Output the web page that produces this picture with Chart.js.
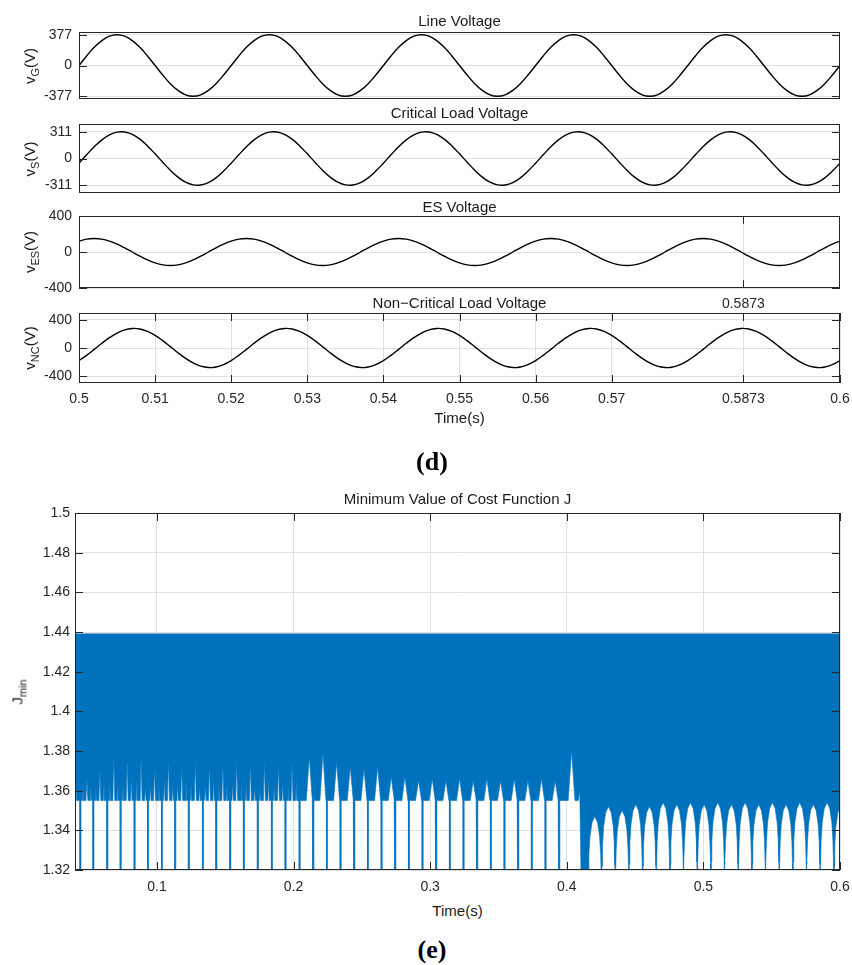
<!DOCTYPE html>
<html>
<head>
<meta charset="utf-8">
<script src="https://cdn.jsdelivr.net/npm/chart.js"></script>
<style>
  body { margin: 0; background: #fff; }
  #fig { position: relative; width: 852px; height: 965px; background: #fff; overflow: hidden; }
  canvas { position: absolute; left: 0; }
  .lbl { position: absolute; transform: translate(-50%, -50%); white-space: nowrap; line-height: 1;
         font: 15px 'Liberation Sans', Arial, sans-serif; color: #1a1a1a; }
  .rot { transform: translate(-50%, -50%) rotate(-90deg); }
  .lbl sub { font-size: 11px; vertical-align: -4px; line-height: 0; }
  .tag { font: bold 26px 'Liberation Serif', 'DejaVu Serif', serif; color: #000; }
</style>
</head>
<body>
<div id="fig">
  <canvas id="c1" width="852" height="84" style="top:20px"></canvas>
  <canvas id="c2" width="852" height="96" style="top:104px"></canvas>
  <canvas id="c3" width="852" height="112" style="top:200px"></canvas>
  <canvas id="c4" width="852" height="100" style="top:312px"></canvas>
  <canvas id="c5" width="852" height="395" style="top:505px"></canvas>

  <div class="lbl" style="left:459.5px;top:20px">Line Voltage</div>
  <div class="lbl" style="left:459.5px;top:112px">Critical Load Voltage</div>
  <div class="lbl" style="left:459.5px;top:206px">ES Voltage</div>
  <div class="lbl" style="left:459.5px;top:302px">Non−Critical Load Voltage</div>
  <div class="lbl" style="left:459.5px;top:417px">Time(s)</div>
  <div class="lbl tag" style="left:432px;top:462px">(d)</div>
  <div class="lbl" style="left:457.5px;top:498px">Minimum Value of Cost Function J</div>
  <div class="lbl" style="left:457.5px;top:910px">Time(s)</div>
  <div class="lbl tag" style="left:432px;top:950px">(e)</div>

  <div class="lbl rot" style="left:29px;top:65.5px">v<sub>G</sub>(V)</div>
  <div class="lbl rot" style="left:29px;top:158.5px">v<sub>S</sub>(V)</div>
  <div class="lbl rot" style="left:29px;top:252px">v<sub>ES</sub>(V)</div>
  <div class="lbl rot" style="left:29px;top:348px">v<sub>NC</sub>(V)</div>
  <div class="lbl rot" style="left:17px;top:692px">J<sub>min</sub></div>
</div>
<script>
// ---- (d) voltages, sampled every 1 ms from 0.5 s to 0.6 s ----
const tStart = 0.5, tStep = 0.001;
const vG = [0,117,222,305,359,377,359,305,222,117,0,-117,-222,-305,-359,-377,-359,-305,-222,-117,
  0,117,222,305,359,377,359,305,222,117,0,-117,-222,-305,-359,-377,-359,-305,-222,-117,
  0,117,222,305,359,377,359,305,222,117,0,-117,-222,-305,-359,-377,-359,-305,-222,-117,
  0,117,222,305,359,377,359,305,222,117,0,-117,-222,-305,-359,-377,-359,-305,-222,-117,
  0,117,222,305,359,377,359,305,222,117,0,-117,-222,-305,-359,-377,-359,-305,-222,-117,
  0];
const vS = [-54,43,136,216,275,306,308,280,224,146,54,-43,-136,-216,-275,-306,-308,-280,-224,-146,
  -54,43,136,216,275,306,308,280,224,146,54,-43,-136,-216,-275,-306,-308,-280,-224,-146,
  -54,43,136,216,275,306,308,280,224,146,54,-43,-136,-216,-275,-306,-308,-280,-224,-146,
  -54,43,136,216,275,306,308,280,224,146,54,-43,-136,-216,-275,-306,-308,-280,-224,-146,
  -54,43,136,216,275,306,308,280,224,146,54,-43,-136,-216,-275,-306,-308,-280,-224,-146,
  -54];
const vES = [121,143,150,143,121,88,46,0,-46,-88,-121,-143,-150,-143,-121,-88,-46,0,46,88,
  121,143,150,143,121,88,46,0,-46,-88,-121,-143,-150,-143,-121,-88,-46,0,46,88,
  121,143,150,143,121,88,46,0,-46,-88,-121,-143,-150,-143,-121,-88,-46,0,46,88,
  121,143,150,143,121,88,46,0,-46,-88,-121,-143,-150,-143,-121,-88,-46,0,46,88,
  121,143,150,143,121,88,46,0,-46,-88,-121,-143,-150,-143,-121,-88,-46,0,46,88,
  121];
const vNC = [-180,-105,-20,68,148,214,260,279,272,237,180,105,20,-68,-148,-214,-260,-279,-272,-237,
  -180,-105,-20,68,148,214,260,279,272,237,180,105,20,-68,-148,-214,-260,-279,-272,-237,
  -180,-105,-20,68,148,214,260,279,272,237,180,105,20,-68,-148,-214,-260,-279,-272,-237,
  -180,-105,-20,68,148,214,260,279,272,237,180,105,20,-68,-148,-214,-260,-279,-272,-237,
  -180,-105,-20,68,148,214,260,279,272,237,180,105,20,-68,-148,-214,-260,-279,-272,-237,
  -180];
const timeTicks = [0.5, 0.51, 0.52, 0.53, 0.54, 0.55, 0.56, 0.57, 0.5873, 0.6];
const cursorTicks = [0.5873];

// ---- (e) cost function band ----
const jTop = 1.439;    // upper edge of the band
const jBase = 1.355;   // lower edge before 0.41 s
const jFloor = 1.30;   // drop-outs below the axis
const spikeT = [0.0440, 0.0535, 0.0637, 0.0735, 0.0837, 0.0935, 0.1037, 0.1134, 0.1234, 0.1337,
  0.1435, 0.1537, 0.1637, 0.1739, 0.1842, 0.1942, 0.2045, 0.2145, 0.2245, 0.2345, 0.2445, 0.2545,
  0.2645, 0.2745, 0.2845, 0.2945, 0.3045, 0.3145, 0.3245, 0.3345, 0.3445, 0.3545, 0.3645, 0.3745,
  0.3845, 0.3945];
const notchT = [0.0487, 0.0582, 0.0684, 0.0782, 0.0884, 0.0982, 0.1084, 0.1181, 0.1281, 0.1384,
  0.1482, 0.1584, 0.1684, 0.1786, 0.1889, 0.1989, 0.2115, 0.2215, 0.2315, 0.2415, 0.2515, 0.2615,
  0.2715, 0.2815, 0.2915, 0.3015, 0.3115, 0.3215, 0.3315, 0.3415, 0.3515, 0.3615, 0.3715, 0.3815,
  0.3915, 0.4035];
const notchJ = [1.366, 1.370, 1.378, 1.375, 1.377, 1.372, 1.376, 1.373, 1.375, 1.373, 1.374, 1.375,
  1.374, 1.375, 1.373, 1.374, 1.377, 1.379, 1.374, 1.372, 1.371, 1.372, 1.367, 1.367, 1.365, 1.366,
  1.365, 1.366, 1.365, 1.366, 1.365, 1.366, 1.365, 1.366, 1.365, 1.380];
const notchW = [0.0007, 0.0007, 0.0007, 0.0007, 0.0007, 0.0007, 0.0007, 0.0007, 0.0007, 0.0007,
  0.0007, 0.0007, 0.0007, 0.0007, 0.0007, 0.0007, 0.0022, 0.0022, 0.0022, 0.0022, 0.0022, 0.0022,
  0.0022, 0.0022, 0.0022, 0.0022, 0.0022, 0.0022, 0.0022, 0.0022, 0.0022, 0.0022, 0.0022, 0.0022,
  0.0022, 0.0025];
// smaller white needles before 0.2 s (just after the drop-out, and late in the period)
const minorJ = [1.365, 1.362, 1.366, 1.364, 1.365, 1.363, 1.366, 1.364, 1.365, 1.363, 1.365, 1.364,
  1.366, 1.363, 1.365, 1.364];
const lateJ = [1.362, 1.366, 1.363, 1.367, 1.362, 1.365, 1.363, 1.366, 1.362, 1.366, 1.363, 1.365,
  1.362, 1.366, 1.364, 1.368];
const archB = [0.4155, 0.4255, 0.4355, 0.4455, 0.4555, 0.4655, 0.4755, 0.4855, 0.4955, 0.5055,
  0.5155, 0.5255, 0.5355, 0.5455, 0.5555, 0.5655, 0.5755, 0.5855, 0.5955, 0.6055];
const archJ = [1.347, 1.352, 1.350, 1.353, 1.352, 1.354, 1.353, 1.354, 1.353, 1.354, 1.353, 1.354,
  1.353, 1.354, 1.353, 1.354, 1.353, 1.354, 1.352];
// arch profile: [fraction of period, depth below arch top]
const archShape = [[0, 0.047], [0.03, 0.03], [0.07, 0.019], [0.15, 0.01], [0.3, 0.003], [0.5, 0],
  [0.7, 0.003], [0.85, 0.01], [0.93, 0.019], [0.97, 0.03]];
const jTicks = [1.32, 1.34, 1.36, 1.38, 1.4, 1.42, 1.44, 1.46, 1.48, 1.5];
const tTicksE = [0.1, 0.2, 0.3, 0.4, 0.5, 0.6];

const font = { family: "'Liberation Sans', Arial, sans-serif", size: 14 };
const axisColor = '#262626';
const gridColor = '#e0e0e0';
const blue = '#0072BD';

// MATLAB-style box with ticks pointing inwards
const boxTicks = {
    id: 'boxTicks',
    afterDatasetsDraw(chart, args, o) {
        const { ctx, chartArea: a, scales } = chart;
        const L = 8;
        ctx.save();
        ctx.strokeStyle = axisColor;
        ctx.lineWidth = 1;
        ctx.beginPath();
        if (o.y) scales.y.ticks.forEach(t => {
            const p = Math.round(scales.y.getPixelForValue(t.value)) + 0.5;
            ctx.moveTo(a.left, p); ctx.lineTo(a.left + L, p);
            ctx.moveTo(a.right, p); ctx.lineTo(a.right - L, p);
        });
        if (o.x) scales.x.ticks.forEach(t => {
            const p = Math.round(scales.x.getPixelForValue(t.value)) + 0.5;
            ctx.moveTo(p, a.top); ctx.lineTo(p, a.top + L);
            ctx.moveTo(p, a.bottom); ctx.lineTo(p, a.bottom - L);
        });
        ctx.stroke();
        ctx.strokeRect(Math.round(a.left) + 0.5, Math.round(a.top) + 0.5,
            Math.round(a.right - a.left) - 1, Math.round(a.bottom - a.top) - 1);
        ctx.restore();
    }
};
Chart.register(boxTicks);

const setTicks = list => s => { s.ticks = list.map(v => ({ value: v })); };
// fixed axis sizes, no extra room for overhanging labels
const fixX = h => s => { s.height = h; s.paddingLeft = 0; s.paddingRight = 0; };
const fixY = w => s => { s.width = w; s.paddingTop = 0; s.paddingBottom = 0; };

function panel(id, values, lim, yTicks, xTicks, showX, padTop, padBottom, xHeight) {
    const pts = values.map((v, i) => ({ x: Math.round((tStart + i * tStep) * 1e4) / 1e4, y: v }));
    const x = {
        type: 'linear', min: 0.5, max: 0.6,
        border: { display: false },
        grid: { display: !!xTicks, color: gridColor, drawTicks: false },
        ticks: { display: showX, font, color: axisColor, padding: 8, maxRotation: 0, autoSkip: false, callback: v => String(v) },
        afterFit: fixX(xHeight)
    };
    if (xTicks) x.afterBuildTicks = setTicks(xTicks);
    return new Chart(document.getElementById(id), {
        type: 'line',
        data: { datasets: [{ data: pts, borderColor: '#000', borderWidth: 1.4, pointRadius: 0, tension: 0.4, fill: false }] },
        options: {
            responsive: false, animation: false, events: [],
            layout: { padding: { top: padTop, right: 12, bottom: padBottom, left: 0 } },
            plugins: { legend: { display: false }, tooltip: { enabled: false }, boxTicks: { x: !!xTicks, y: true } },
            scales: {
                x,
                y: {
                    min: -lim, max: lim,
                    border: { display: false },
                    grid: { color: gridColor, drawTicks: false },
                    ticks: { font, color: axisColor, padding: 7, callback: v => String(v) },
                    afterBuildTicks: setTicks(yTicks),
                    afterFit: fixY(79)
                }
            }
        }
    });
}

panel('c1', vG, 410, [-377, 0, 377], null, false, 12, 5, 0);
panel('c2', vS, 400, [-311, 0, 311], null, false, 20, 7, 0);
panel('c3', vES, 400, [-400, 0, 400], cursorTicks, true, 16, 0, 24);
panel('c4', vNC, 500, [-400, 0, 400], timeTicks, true, 1, 0, 29);

// lower edge of the J band
const needle = (list, c, w, h) => list.push({ x: c - w, y: jBase }, { x: c, y: h }, { x: c + w, y: jBase });
const lower = [{ x: 0.04, y: 1.374 }, { x: 0.0412, y: jBase }];
spikeT.forEach((s, k) => {
    lower.push({ x: s - 0.0004, y: jBase }, { x: s - 0.0004, y: jFloor },
               { x: s + 0.0004, y: jFloor }, { x: s + 0.0004, y: jBase });
    if (k < minorJ.length) needle(lower, s + 0.0017, 0.0005, minorJ[k]);
    needle(lower, notchT[k], notchW[k], notchJ[k]);
    if (k < lateJ.length) needle(lower, s + 0.0078, 0.0005, lateJ[k]);
});
lower.push({ x: 0.4085, y: jBase }, { x: 0.4095, y: 1.36 }, { x: 0.4108, y: jFloor });
archJ.forEach((top, i) => {
    const a = archB[i], b = archB[i + 1];
    archShape.forEach(([f, d]) => lower.push({ x: a + f * (b - a), y: top - d }));
});
lower.push({ x: archB[archB.length - 1], y: jFloor });

new Chart(document.getElementById('c5'), {
    type: 'line',
    data: {
        datasets: [
            { data: lower, borderColor: blue, borderWidth: 0.6, backgroundColor: blue, fill: { value: jTop }, pointRadius: 0, tension: 0 },
            { data: [{ x: 0.04, y: jTop }, { x: 0.6, y: jTop }], borderColor: blue, borderWidth: 1.2, pointRadius: 0, fill: false }
        ]
    },
    options: {
        responsive: false, animation: false, events: [],
        layout: { padding: { top: 8, right: 12, bottom: 0, left: 0 } },
        plugins: { legend: { display: false }, tooltip: { enabled: false }, boxTicks: { x: true, y: true } },
        scales: {
            x: {
                type: 'linear', min: 0.04, max: 0.6,
                border: { display: false },
                grid: { color: gridColor, drawTicks: false },
                ticks: { font, color: axisColor, padding: 9, maxRotation: 0, autoSkip: false, callback: v => String(v) },
                afterBuildTicks: setTicks(tTicksE),
                afterFit: fixX(30)
            },
            y: {
                min: 1.32, max: 1.5,
                border: { display: false },
                grid: { color: gridColor, drawTicks: false },
                ticks: { font, color: axisColor, padding: 5, callback: v => String(v) },
                afterBuildTicks: setTicks(jTicks),
                afterFit: fixY(75)
            }
        }
    }
});
</script>
</body>
</html>
